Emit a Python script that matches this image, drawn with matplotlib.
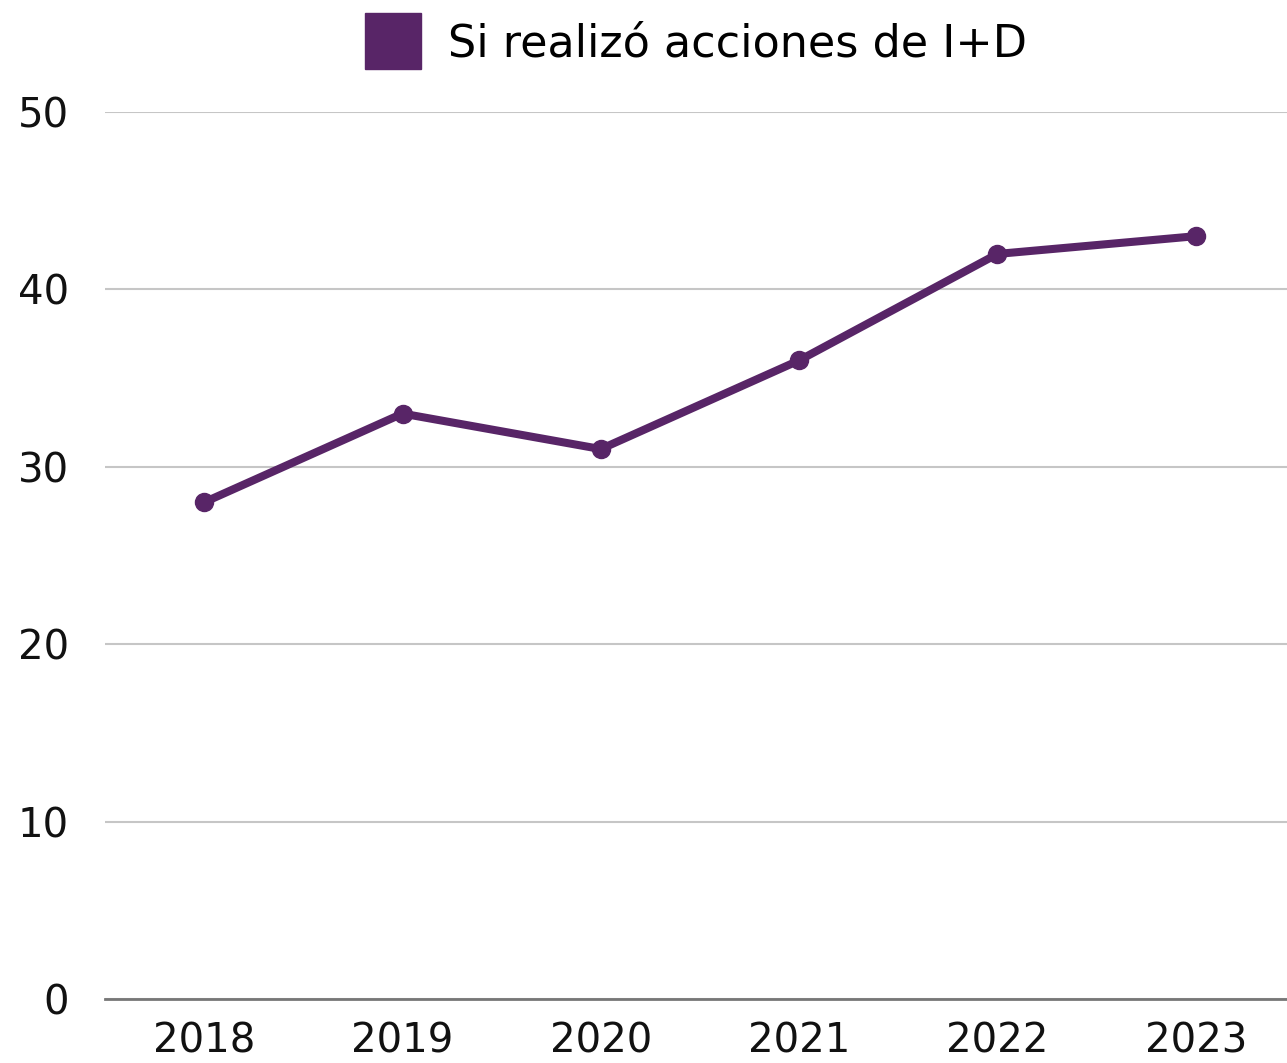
import matplotlib
matplotlib.use("Agg")
import matplotlib.pyplot as plt
from matplotlib.lines import Line2D

plt.rcParams['font.family'] = ['DejaVu Sans']

years = ["2018", "2019", "2020", "2021", "2022", "2023"]
values = [28, 33, 31, 36, 42, 43]
series_name = "Si realizó acciones de I+D"
yticks = [0, 10, 20, 30, 40, 50]

purple = "#582567"
W, H = 1287, 1063

fig = plt.figure(figsize=(W / 100, H / 100), dpi=100)
ax = fig.add_axes([105 / W, (H - 999) / H, 1190 / W, 887 / H])

x = list(range(len(years)))
ax.plot(x, values, color=purple, lw=5.8, marker="o", ms=13,
        solid_capstyle="round", zorder=3)

ax.set_xlim(-0.5, len(years) - 0.5)
ax.set_ylim(0, 50)
ax.set_xticks(x)
ax.set_xticklabels(years)
ax.set_yticks(yticks)
ax.tick_params(axis="both", length=0, labelsize=29, colors="#111111")
ax.tick_params(axis="y", pad=26)
ax.tick_params(axis="x", pad=16)
ax.yaxis.grid(True, color="#c6c6c6", lw=1.5)
ax.set_axisbelow(True)
for s in ["top", "right", "left"]:
    ax.spines[s].set_visible(False)
ax.spines["bottom"].set_color("#777777")
ax.spines["bottom"].set_linewidth(2)

handle = Line2D([], [], color=purple, marker="s", ls="none", ms=40)
fig.legend([handle], [series_name], loc="center", bbox_to_anchor=(688 / W, 1 - 44 / H),
           frameon=False, fontsize=32, handletextpad=0.25, borderaxespad=0)

fig.savefig("out.png", dpi=100)
